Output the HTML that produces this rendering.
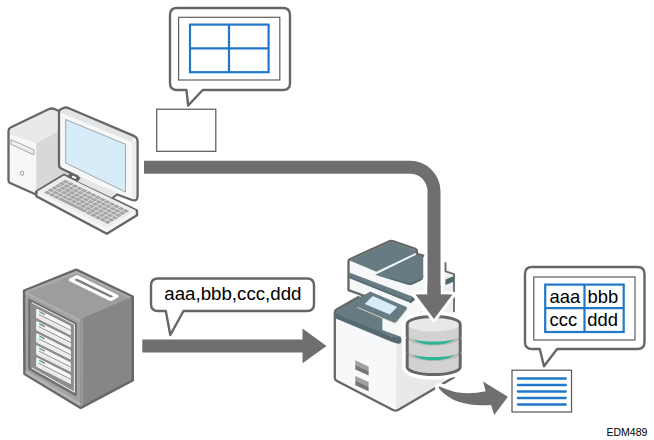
<!DOCTYPE html>
<html><head><meta charset="utf-8"><title>EDM489</title>
<style>
html,body{margin:0;padding:0;background:#fff;}
svg{display:block;font-family:"Liberation Sans",Arial,sans-serif;}
</style></head>
<body>
<svg width="654" height="440" viewBox="0 0 654 440">
<rect width="654" height="440" fill="#fff"/>
<g id="bubble1">
<path d="M177 8 H283 Q290 8 290 15 V83 Q290 90 283 90 H202.7 L188.2 105.5 L186.4 90 H177 Q170 90 170 83 V15 Q170 8 177 8 Z" fill="#fff" stroke="#666666" stroke-width="2.4" stroke-linejoin="round"/>
<rect x="178.6" y="17.3" width="101.2" height="62.7" fill="#fff" stroke="#5e5e5e" stroke-width="1.2"/>
<rect x="190" y="24.6" width="78.6" height="47.6" fill="#fff" stroke="#1f78c8" stroke-width="2.2"/>
<path d="M229 24.6 V72.2 M190 48.4 H268.6" stroke="#1f78c8" stroke-width="2.2" fill="none"/>
</g>
<rect x="156.7" y="109.2" width="59.1" height="42.1" fill="#fff" stroke="#555" stroke-width="1.2"/>
<g id="tower">
<path d="M8.5 131 Q8.5 128.6 10.6 127.5 L48.5 109.2 Q52 107.8 55 109.3 L60 111.5 L68 150 V176 L36 194.5 L10 183 Q8.5 182.3 8.5 180.5 Z" fill="#f6f7f8"/>
<path d="M9 130 L50 109 L60 112 V130.6 L36.6 143 Q36 143.3 35.3 143 L9.5 134 Z" fill="#e8e9ea"/>
<path d="M36.2 144 Q36.2 143.2 37 142.8 L60 130.6 L68 150 V176 L36.2 194 Z" fill="#d7d8d9"/>
<path d="M11 139.7 L33.9 149.8 V154.9 L11 144.3 Z" fill="#efefef" stroke="#9c9d9e" stroke-width="0.9" stroke-linejoin="round"/>
<ellipse cx="22" cy="173.3" rx="1.7" ry="2.1" fill="#fff" stroke="#8f9091" stroke-width="0.9"/>
<path d="M60 111.5 L55 109.3 Q52 107.8 48.5 109.2 L10.6 127.5 Q8.5 128.6 8.5 131 V180.5 Q8.5 182.3 10 183 L36 194.5" fill="none" stroke="#666666" stroke-width="2.3" stroke-linejoin="round" stroke-linecap="round"/>
</g>
<g id="kbd"><path d="M36.3 191.6 L64.0 174.8 L137.0 210.6 V215.2 L106.8 233.8 L36.3 196.2 Z" fill="#f4f5f5" stroke="#666666" stroke-width="2.4" stroke-linejoin="round"/><path d="M37.3 191.6 L64.0 175.60000000000002 L136.0 210.6 L106.8 228.6 Z" fill="#ecedee"/><g transform="matrix(0.7300 0.3580 -0.2770 0.1680 64.0 174.8)" fill="#a3a5a5"><rect x="6.95" y="14.10" width="5.42" height="10.97"/><rect x="13.27" y="14.10" width="5.42" height="10.97"/><rect x="19.59" y="14.10" width="5.42" height="10.97"/><rect x="25.91" y="14.10" width="5.42" height="10.97"/><rect x="32.24" y="14.10" width="5.42" height="10.97"/><rect x="38.56" y="14.10" width="5.42" height="10.97"/><rect x="44.88" y="14.10" width="5.42" height="10.97"/><rect x="51.20" y="14.10" width="5.42" height="10.97"/><rect x="57.52" y="14.10" width="5.42" height="10.97"/><rect x="63.84" y="14.10" width="5.42" height="10.97"/><rect x="70.16" y="14.10" width="5.42" height="10.97"/><rect x="76.49" y="14.10" width="5.42" height="10.97"/><rect x="82.81" y="14.10" width="5.42" height="10.97"/><rect x="89.13" y="14.10" width="5.42" height="10.97"/><rect x="6.95" y="27.27" width="5.42" height="10.97"/><rect x="13.27" y="27.27" width="5.42" height="10.97"/><rect x="19.59" y="27.27" width="5.42" height="10.97"/><rect x="25.91" y="27.27" width="5.42" height="10.97"/><rect x="32.24" y="27.27" width="5.42" height="10.97"/><rect x="38.56" y="27.27" width="5.42" height="10.97"/><rect x="44.88" y="27.27" width="5.42" height="10.97"/><rect x="51.20" y="27.27" width="5.42" height="10.97"/><rect x="57.52" y="27.27" width="5.42" height="10.97"/><rect x="63.84" y="27.27" width="5.42" height="10.97"/><rect x="70.16" y="27.27" width="5.42" height="10.97"/><rect x="76.49" y="27.27" width="5.42" height="10.97"/><rect x="82.81" y="27.27" width="5.42" height="10.97"/><rect x="89.13" y="27.27" width="5.42" height="10.97"/><rect x="6.95" y="40.43" width="5.42" height="10.97"/><rect x="13.27" y="40.43" width="5.42" height="10.97"/><rect x="19.59" y="40.43" width="5.42" height="10.97"/><rect x="25.91" y="40.43" width="5.42" height="10.97"/><rect x="32.24" y="40.43" width="5.42" height="10.97"/><rect x="38.56" y="40.43" width="5.42" height="10.97"/><rect x="44.88" y="40.43" width="5.42" height="10.97"/><rect x="51.20" y="40.43" width="5.42" height="10.97"/><rect x="57.52" y="40.43" width="5.42" height="10.97"/><rect x="63.84" y="40.43" width="5.42" height="10.97"/><rect x="70.16" y="40.43" width="5.42" height="10.97"/><rect x="76.49" y="40.43" width="5.42" height="10.97"/><rect x="82.81" y="40.43" width="5.42" height="10.97"/><rect x="89.13" y="40.43" width="5.42" height="10.97"/><rect x="6.95" y="53.60" width="5.42" height="10.97"/><rect x="13.27" y="53.60" width="5.42" height="10.97"/><rect x="19.59" y="53.60" width="5.42" height="10.97"/><rect x="25.91" y="53.60" width="5.42" height="10.97"/><rect x="32.24" y="53.60" width="5.42" height="10.97"/><rect x="38.56" y="53.60" width="5.42" height="10.97"/><rect x="44.88" y="53.60" width="5.42" height="10.97"/><rect x="51.20" y="53.60" width="5.42" height="10.97"/><rect x="57.52" y="53.60" width="5.42" height="10.97"/><rect x="63.84" y="53.60" width="5.42" height="10.97"/><rect x="70.16" y="53.60" width="5.42" height="10.97"/><rect x="76.49" y="53.60" width="5.42" height="10.97"/><rect x="82.81" y="53.60" width="5.42" height="10.97"/><rect x="89.13" y="53.60" width="5.42" height="10.97"/><rect x="6.95" y="66.77" width="5.42" height="10.97"/><rect x="13.27" y="66.77" width="5.42" height="10.97"/><rect x="19.59" y="66.77" width="5.42" height="10.97"/><rect x="25.91" y="66.77" width="5.42" height="10.97"/><rect x="32.24" y="66.77" width="5.42" height="10.97"/><rect x="38.56" y="66.77" width="5.42" height="10.97"/><rect x="44.88" y="66.77" width="5.42" height="10.97"/><rect x="51.20" y="66.77" width="5.42" height="10.97"/><rect x="57.52" y="66.77" width="5.42" height="10.97"/><rect x="63.84" y="66.77" width="5.42" height="10.97"/><rect x="70.16" y="66.77" width="5.42" height="10.97"/><rect x="76.49" y="66.77" width="5.42" height="10.97"/><rect x="82.81" y="66.77" width="5.42" height="10.97"/><rect x="89.13" y="66.77" width="5.42" height="10.97"/><rect x="6.95" y="79.93" width="5.42" height="10.97"/><rect x="13.27" y="79.93" width="5.42" height="10.97"/><rect x="19.59" y="79.93" width="5.42" height="10.97"/><rect x="25.91" y="79.93" width="37.03" height="10.97"/><rect x="63.84" y="79.93" width="5.42" height="10.97"/><rect x="70.16" y="79.93" width="5.42" height="10.97"/><rect x="76.49" y="79.93" width="5.42" height="10.97"/><rect x="82.81" y="79.93" width="5.42" height="10.97"/><rect x="89.13" y="79.93" width="5.42" height="10.97"/></g></g>
<g id="monitor">
<path d="M59 112.5 Q59 109.6 61.6 108.8 L64.6 107.7 Q66.4 107.2 68.2 108 L133.8 135.9 Q137.6 137.6 137.6 141.6 V195.5 Q137.6 201.8 132 200 L117 194.6 L112.5 197.8 L78.8 182 L70 173 L61.6 168.8 Q59 167.6 59 165 Z" fill="#f6f7f8"/>
<path d="M81 176.9 L116.6 193 L111 197.7 L78.8 182.2 Q78 180 81 176.9 Z" fill="#e5e6e6"/>
<path d="M78.8 182.3 L111.5 197.7" stroke="#7a7b7b" stroke-width="0.9" fill="none"/>
<path d="M69.3 172.8 L80.8 177.6 L77.8 182 L67.5 177 Z" fill="#666666"/>
<path d="M72.6 175.4 L76.6 177.1 L75.6 178.9 L71.7 177.2 Z" fill="#fff"/>
<path d="M117.2 194.5 L112.6 197.9" stroke="#666666" stroke-width="2" stroke-linecap="round" fill="none"/>
<path d="M60.2 112.4 L65.8 108.6 L134.6 137.6 L132.2 142.2 Z" fill="#e3e4e5"/>
<path d="M132.2 142.2 L136.5 139.5 V197 L132.2 199 Z" fill="#ebecec"/>
<path d="M78 176.6 L61.6 168.8 Q59 167.6 59 165 V112.5 Q59 109.6 61.6 108.8 L64.6 107.7 Q66.4 107.2 68.2 108 L133.8 135.9 Q137.6 137.6 137.6 141.6 V195.5 Q137.6 201.8 132 200 L117.2 194.5" fill="none" stroke="#666666" stroke-width="2.3" stroke-linejoin="round" stroke-linecap="round"/>
<path d="M65.7 119.5 L125.5 144.3 V192 L65.7 163 Z" fill="#d7ecf9" stroke="#9b9c9d" stroke-width="0.9" stroke-linejoin="round"/>
</g>
<g id="server"><path d="M24.2 290.7 L76.3 269.8 L132.6 296.8 V380.2 L80.7 407.7 L24.6 373.9 Z" fill="#868686" stroke="#686868" stroke-width="2.8" stroke-linejoin="round"/><path d="M25.3 291.2 L76.3 270.9 L131.5 297.2 L80.4 319.3 Z" fill="#9c9e9d"/><path d="M25.3 291.2 L76.3 270.9 L131.5 297.2 L129 298.3 L76.3 273.4 L28 292.6 Z" fill="#abadac"/><path d="M25.3 291.2 L80.4 319.3 V406.3 L25.6 373.3 Z" fill="#a0a2a1"/><path d="M25.3 291.2 L80.4 319.3 V322 L25.3 294 Z" fill="#adafae"/><path d="M25.6 370.3 L80.7 403.3 V406.5 L25.6 373.5 Z" fill="#b3b5b4"/><path d="M80.4 319.3 L131.5 297.2 V379.6 L80.7 406.5 Z" fill="#868686"/><path d="M80.4 319.3 L83 318.2 V405.2 L80.7 406.5 Z" fill="#999b9a"/><path d="M70.4 279.9 L77 276.8 L117 296.2 L110.8 299.5 Z" fill="#7f7f7f" stroke="#fff" stroke-width="3.2" stroke-linejoin="round"/><path d="M29.3 299.8 L75.8 323.6 V395.2 L29.3 369 Z" fill="#8d8d8d" stroke="#6c6c6c" stroke-width="2" stroke-linejoin="round"/><path d="M32 302.6 L74.4 324.4 V392.2 L32 368" fill="none" stroke="#f2f2f2" stroke-width="1"/><path d="M36.2 309.5 Q36.2 308.4 37.4 309.0 L69.8 325.4 Q70.9 326.0 70.9 327.3 V334.1 Q70.9 335.3 69.8 334.7 L37.2 318.3 Q36.2 317.8 36.2 316.7 Z" fill="#f6f6f6"/><path d="M36.2 314.3 L70.9 331.7 V334.1 Q70.9 335.3 69.8 334.7 L37.2 318.3 Q36.2 317.8 36.2 316.7 Z" fill="#ebebeb"/><path d="M38.6 314.3 L70.9 330.5" stroke="#858585" stroke-width="0.9" fill="none"/><path d="M41 311.9 L44.8 313.8 V315.2 L41 313.3 Z" fill="#7c7c7c"/><path d="M39.2 310.9 L42 312.3 V313.7 L39.2 312.3 Z" fill="#2bb596"/><path d="M36.2 321.7 Q36.2 320.6 37.4 321.2 L69.8 337.6 Q70.9 338.2 70.9 339.5 V346.3 Q70.9 347.5 69.8 346.9 L37.2 330.5 Q36.2 330.0 36.2 328.9 Z" fill="#f6f6f6"/><path d="M36.2 326.5 L70.9 343.9 V346.3 Q70.9 347.5 69.8 346.9 L37.2 330.5 Q36.2 330.0 36.2 328.9 Z" fill="#ebebeb"/><path d="M38.6 326.5 L70.9 342.7" stroke="#858585" stroke-width="0.9" fill="none"/><path d="M41 324.1 L44.8 326.0 V327.4 L41 325.5 Z" fill="#7c7c7c"/><path d="M39.2 323.1 L42 324.5 V325.9 L39.2 324.5 Z" fill="#2bb596"/><path d="M36.2 333.9 Q36.2 332.8 37.4 333.4 L69.8 349.8 Q70.9 350.4 70.9 351.7 V358.5 Q70.9 359.7 69.8 359.1 L37.2 342.7 Q36.2 342.2 36.2 341.1 Z" fill="#f6f6f6"/><path d="M36.2 338.7 L70.9 356.1 V358.5 Q70.9 359.7 69.8 359.1 L37.2 342.7 Q36.2 342.2 36.2 341.1 Z" fill="#ebebeb"/><path d="M38.6 338.7 L70.9 354.9" stroke="#858585" stroke-width="0.9" fill="none"/><path d="M41 336.3 L44.8 338.2 V339.6 L41 337.7 Z" fill="#7c7c7c"/><path d="M39.2 335.3 L42 336.7 V338.1 L39.2 336.7 Z" fill="#2bb596"/><path d="M36.2 346.1 Q36.2 345.0 37.4 345.6 L69.8 362.0 Q70.9 362.6 70.9 363.9 V370.7 Q70.9 371.9 69.8 371.3 L37.2 354.9 Q36.2 354.4 36.2 353.3 Z" fill="#f6f6f6"/><path d="M36.2 350.9 L70.9 368.3 V370.7 Q70.9 371.9 69.8 371.3 L37.2 354.9 Q36.2 354.4 36.2 353.3 Z" fill="#ebebeb"/><path d="M38.6 350.9 L70.9 367.1" stroke="#858585" stroke-width="0.9" fill="none"/><path d="M41 348.5 L44.8 350.4 V351.8 L41 349.9 Z" fill="#7c7c7c"/><path d="M39.2 347.5 L42 348.9 V350.3 L39.2 348.9 Z" fill="#2bb596"/><path d="M36.2 358.3 Q36.2 357.2 37.4 357.8 L69.8 374.2 Q70.9 374.8 70.9 376.1 V382.9 Q70.9 384.1 69.8 383.5 L37.2 367.1 Q36.2 366.6 36.2 365.5 Z" fill="#f6f6f6"/><path d="M36.2 363.1 L70.9 380.5 V382.9 Q70.9 384.1 69.8 383.5 L37.2 367.1 Q36.2 366.6 36.2 365.5 Z" fill="#ebebeb"/><path d="M38.6 363.1 L70.9 379.3" stroke="#858585" stroke-width="0.9" fill="none"/><path d="M41 360.7 L44.8 362.6 V364.0 L41 362.1 Z" fill="#7c7c7c"/><path d="M39.2 359.7 L42 361.1 V362.5 L39.2 361.1 Z" fill="#2bb596"/></g>
<g id="bubble2">
<path d="M158 278.5 H307 Q314 278.5 314 285.5 V304 Q314 311 307 311 H183.5 L170.3 335 L165.8 311 H158 Q151 311 151 304 V285.5 Q151 278.5 158 278.5 Z" fill="#fff" stroke="#666666" stroke-width="2.4" stroke-linejoin="round"/>
<text x="164.3" y="299.6" font-size="18.7" fill="#000">aaa,bbb,ccc,ddd</text>
</g>
<g id="printer"><path d="M334.8 313 Q334.8 311 336.5 310 L359 297.5 L445 262 L454 274 V377.3 L398 410 Q395.4 411.4 393 410 L337 381 Q334.8 380 334.8 377.5 Z" fill="#f7f8f9"/><path d="M396.4 345 L454 318 V377.3 L398 410 Q396.8 410.6 396 410.7 Z" fill="#e8e9ea"/><path d="M445.5 272 L454 274.5 V320 L440 326 Z" fill="#eeeff0"/><path d="M445.5 279.5 L454 276 V281.4 L445.5 285 Z" fill="#51666d"/><path d="M445.5 262.3 V271.4 L454 274 V312" fill="none" stroke="#666666" stroke-width="1.8" stroke-linejoin="round"/><path d="M348.5 259.7 L391.2 240.7 L417 250.3 V254.6 L424 257 V300 L414 306 L359 296 L348.5 290.5 Z" fill="#f6f7f8"/><path d="M349.5 260.6 L391 241.6 L416.2 250.6 V252.7 L376.4 271.7 Z" fill="#677b82"/><path d="M349.3 272.4 L412.3 296.4 L408 301.8 L349.3 278 Z" fill="#677b82"/><path d="M412.3 296.4 L415.2 299.4 L410.8 303.3 L408 301.8 Z" fill="#4f646b"/><path d="M349.3 276.6 L408.8 300.6 L408 301.8 L349.3 278 Z" fill="#566a71"/><path d="M375.3 274.8 L416.6 254.5 L423.2 256.3 V277 Q423.2 279.6 420.5 280.8 L413 284.3 Q410.5 285.3 407.5 284.6 Z" fill="#677b82"/><path d="M375.3 274.8 L407.5 282.4 Q410.5 283.1 413 282.1 L420.5 278.6 Q423.2 277.4 423.2 274.8 V277 Q423.2 279.6 420.5 280.8 L413 284.3 Q410.5 285.3 407.5 284.6 Z" fill="#566a71"/><path d="M366 296.5 L348.5 290.2 V261.2 Q348.5 259.9 349.8 259.2 L389.3 241.3 Q391 240.5 392.8 241.1 L416 249.2 Q416.9 249.6 416.9 250.8 V253.8 L423.4 255.7" fill="none" stroke="#666666" stroke-width="2.3" stroke-linejoin="round" stroke-linecap="round"/><path d="M335.8 311 L358 297.8 L370 292 L395 322.7 L382.4 318 V330 L400.9 336.7 V340 L335.8 316 Z" fill="#677b82"/><path d="M335.8 313.6 L392 336.7 L398 337.2 Q401.6 337.6 401.6 340.2 Q401.6 344.6 397 343.6 L392 341.9 L335.8 318.4 Z" fill="#566a71"/><path d="M370 291.6 L405.6 306.6 Q407.8 307.6 406.6 309.4 L396.6 321.8 Q395.6 323 393.8 322.3 L357.3 306.9 Z" fill="#677b82"/><path d="M357.3 307.3 L394 323.1 Q395.6 323.7 396.6 322.5 L407.2 309" stroke="#d9d3c3" stroke-width="1" fill="none"/><path d="M372.8 296.1 L397.2 306.9 L389.8 314.5 L364.7 303.9 Z" fill="#d7ecf9"/><path d="M358.5 296.9 L336.5 309.6 Q334.8 310.6 334.8 312.6 V377.5 Q334.8 380 337 381 L393 409.9 Q395.4 411.2 398 410 L454 377.3" fill="none" stroke="#666666" stroke-width="2.3" stroke-linejoin="round" stroke-linecap="round"/><path d="M355.3 360.3 L368.6 366.40000000000003 V371.0 L355.3 364.90000000000003 Z" fill="#a0a0a0"/><path d="M355.3 364.90000000000003 L368.6 371.0 V375.6 L355.3 369.5 Z" fill="#767676"/><path d="M355.3 376 L368.6 382.1 V386.7 L355.3 380.6 Z" fill="#a0a0a0"/><path d="M355.3 380.6 L368.6 386.7 V391.3 L355.3 385.2 Z" fill="#767676"/></g>
<path d="M144 160.7 H410 A30.5 30.5 0 0 1 440.5 191.2 V294.5 H452.5 L434 319 L415.5 294.5 H427.5 V191.2 A17.5 17.5 0 0 0 410 173.7 H144 Z" fill="#fff" stroke="#fff" stroke-width="6" stroke-linejoin="round"/><path d="M144 160.7 H410 A30.5 30.5 0 0 1 440.5 191.2 V294.5 H452.5 L434 319 L415.5 294.5 H427.5 V191.2 A17.5 17.5 0 0 0 410 173.7 H144 Z" fill="#6f6f6f"/>
<path d="M142.3 339.5 H302.5 V328.6 L326.5 346 L302.5 363.2 V352.5 H142.3 Z" fill="#fff" stroke="#fff" stroke-width="6" stroke-linejoin="round"/><path d="M142.3 339.5 H302.5 V328.6 L326.5 346 L302.5 363.2 V352.5 H142.3 Z" fill="#6f6f6f"/>
<g id="db"><path d="M407.2 324 V367 A26.5 7.6 0 0 0 460.2 367 V324 A26.5 7.6 0 0 0 407.2 324 Z" fill="#fff" stroke="#fff" stroke-width="10" stroke-linejoin="round"/><path d="M407.2 324 V367 A26.5 7.6 0 0 0 460.2 367 V324 A26.5 7.6 0 0 0 407.2 324 Z" fill="#d2d2d1"/><path d="M408.2 335.3 A25.5 6.8 0 0 0 459.2 335.3 V338.7 A25.5 6.8 0 0 1 408.2 338.7 Z" fill="#bcbcbb"/><path d="M412.7 339.3 C422.7 342.40000000000003 444.7 342.40000000000003 454.7 339.3 C444.7 346.7 422.7 346.7 412.7 339.3 Z" fill="#2bb596"/><path d="M408.2 350.8 A25.5 6.8 0 0 0 459.2 350.8 V354.2 A25.5 6.8 0 0 1 408.2 354.2 Z" fill="#bcbcbb"/><path d="M412.7 354.8 C422.7 357.90000000000003 444.7 357.90000000000003 454.7 354.8 C444.7 362.2 422.7 362.2 412.7 354.8 Z" fill="#2bb596"/><ellipse cx="433.7" cy="324" rx="26.5" ry="7.6" fill="#e8e8e7"/><path d="M407.2 324 V367 A26.5 7.6 0 0 0 460.2 367 V324 A26.5 7.6 0 0 0 407.2 324 Z" fill="none" stroke="#666666" stroke-width="3"/><path d="M405.5 336.90000000000003 L406.7 337.8 L405.5 338.7 Z M461.9 336.90000000000003 L460.7 337.8 L461.9 338.7 Z" fill="#fff"/><path d="M405.5 352.3 L406.7 353.2 L405.5 354.09999999999997 Z M461.9 352.3 L460.7 353.2 L461.9 354.09999999999997 Z" fill="#fff"/></g>
<path d="M415.5 294.5 L434 319 L452.5 294.5" fill="#fff" stroke="#fff" stroke-width="6" stroke-linejoin="round"/><path d="M427.5 285 V294.5 H415.5 L434 319 L452.5 294.5 H440.5 V285 Z" fill="#6f6f6f"/>
<path d="M440.4 386.7 C446.5 389.4 453 391.6 458.2 392.5 C467 394 477 393.2 485.7 391.3 L483 381.4 L507.9 396.7 L494.2 415 L491.1 405.1 C476 406 461 403.8 452 399 C446 395.6 441.6 392 439 388.6 C438 387.2 438.8 386.2 440.4 386.7 Z" fill="#fff" stroke="#fff" stroke-width="7" stroke-linejoin="round"/><path d="M440.4 386.7 C446.5 389.4 453 391.6 458.2 392.5 C467 394 477 393.2 485.7 391.3 L483 381.4 L507.9 396.7 L494.2 415 L491.1 405.1 C476 406 461 403.8 452 399 C446 395.6 441.6 392 439 388.6 C438 387.2 438.8 386.2 440.4 386.7 Z" fill="#6f6f6f"/>
<g id="doc"><rect x="512" y="370.2" width="59.5" height="41.8" fill="#fff" stroke="#555" stroke-width="1.2"/><path d="M518 378.6 H565.6" stroke="#1f78c8" stroke-width="2.5" stroke-linecap="round"/><path d="M518 385.1 H565.6" stroke="#1f78c8" stroke-width="2.5" stroke-linecap="round"/><path d="M518 391.5 H565.6" stroke="#1f78c8" stroke-width="2.5" stroke-linecap="round"/><path d="M518 398 H565.6" stroke="#1f78c8" stroke-width="2.5" stroke-linecap="round"/><path d="M518 404.5 H565.6" stroke="#1f78c8" stroke-width="2.5" stroke-linecap="round"/></g>
<g id="bubble3">
<path d="M532 267 H637.5 Q644.5 267 644.5 274 V342 Q644.5 349 637.5 349 H557.1 L544 366.2 L539.8 349 H532 Q525 349 525 342 V274 Q525 267 532 267 Z" fill="#fff" stroke="#666666" stroke-width="2.4" stroke-linejoin="round"/>
<rect x="533.8" y="277" width="101.2" height="63" fill="#fff" stroke="#5e5e5e" stroke-width="1.2"/>
<rect x="545.2" y="284.6" width="78.5" height="47.4" fill="#fff" stroke="#1f78c8" stroke-width="2.2"/>
<path d="M584.5 284.6 V332 M545.2 308.2 H623.7" stroke="#1f78c8" stroke-width="2.2" fill="none"/>
<text x="549.5" y="302.6" font-size="18.4" fill="#000">aaa</text>
<text x="587.6" y="302.6" font-size="18.4" fill="#000">bbb</text>
<text x="549.5" y="325.8" font-size="18.4" fill="#000">ccc</text>
<text x="587.2" y="325.8" font-size="18.4" fill="#000">ddd</text>
</g>
<text x="606.5" y="435.6" font-size="10.5" fill="#000">EDM489</text>
</svg>
</body></html>
